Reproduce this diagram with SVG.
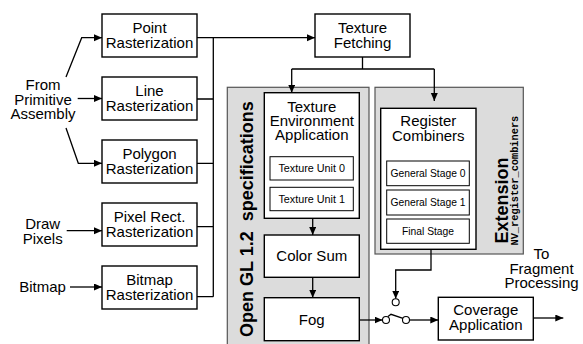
<svg xmlns="http://www.w3.org/2000/svg" width="583" height="344" viewBox="0 0 583 344">
<defs>
<marker id="ah" markerUnits="userSpaceOnUse" markerWidth="9" markerHeight="8" refX="8" refY="3.5" orient="auto">
<path d="M0,0 L8,3.5 L0,7 z" fill="#000"/>
</marker>
<style>
.box{fill:#fff;stroke:#000;stroke-width:1.4}
.sub{fill:#fff;stroke:#000;stroke-width:1}
.gray{fill:#dcdcdc;stroke:#555;stroke-width:1.2}
.t{font-family:"Liberation Sans",Arial,sans-serif;font-size:15px;text-anchor:middle;fill:#000}
.s{font-family:"Liberation Sans",Arial,sans-serif;font-size:10.8px;text-anchor:middle;fill:#000}
.g{font-family:"Liberation Sans",Arial,sans-serif;font-size:10.3px;text-anchor:middle;fill:#000}
.b{font-family:"Liberation Sans",Arial,sans-serif;font-weight:bold;fill:#000}
.m{font-family:"Liberation Mono","Courier New",monospace;font-weight:bold;font-size:10.3px;fill:#000}
.c{fill:none;stroke:#000;stroke-width:1.3}
.a{marker-end:url(#ah)}
.sw{fill:#fff;stroke:#000;stroke-width:1.1}
</style>
</defs>

<g id="opengl-region">
<rect class="gray" x="227.3" y="87.3" width="141.7" height="262"/>
<text class="b" font-size="18" transform="translate(253,337) rotate(-90)" xml:space="preserve">Open GL 1.2  specifications</text>
</g>
<g id="extension-region">
<rect class="gray" x="375" y="87.3" width="148.3" height="166.7"/>
<text class="b" font-size="18" transform="translate(508,243.5) rotate(-90)">Extension</text>
<text class="m" transform="translate(518,245.5) rotate(-90)">NV_register_combiners</text>
</g>

<g id="labels">
<text class="t"><tspan x="43" y="90">From</tspan><tspan x="43" y="104.5">Primitive</tspan><tspan x="43" y="119">Assembly</tspan></text>
<text class="t"><tspan x="42.7" y="229">Draw</tspan><tspan x="42.7" y="244">Pixels</tspan></text>
<text class="t" x="42.5" y="292">Bitmap</text>
<text class="t"><tspan x="541.5" y="259">To</tspan><tspan x="541.5" y="273.5">Fragment</tspan><tspan x="541.5" y="287.5">Processing</tspan></text>
</g>

<g id="point-rasterization">
<rect class="box" x="102" y="14" width="95" height="43"/>
<text class="t"><tspan x="149.5" y="33.3">Point</tspan><tspan x="149.5" y="48.3">Rasterization</tspan></text>
</g>
<g id="line-rasterization">
<rect class="box" x="102" y="77" width="95" height="43"/>
<text class="t"><tspan x="149.5" y="96.3">Line</tspan><tspan x="149.5" y="111.3">Rasterization</tspan></text>
</g>
<g id="polygon-rasterization">
<rect class="box" x="102" y="140" width="95" height="43"/>
<text class="t"><tspan x="149.5" y="159.3">Polygon</tspan><tspan x="149.5" y="174.3">Rasterization</tspan></text>
</g>
<g id="pixelrect-rasterization">
<rect class="box" x="102" y="203" width="95" height="43"/>
<text class="t"><tspan x="149.5" y="222.3">Pixel Rect.</tspan><tspan x="149.5" y="237.3">Rasterization</tspan></text>
</g>
<g id="bitmap-rasterization">
<rect class="box" x="102" y="266" width="95" height="43"/>
<text class="t"><tspan x="149.5" y="285.3">Bitmap</tspan><tspan x="149.5" y="300.3">Rasterization</tspan></text>
</g>

<g id="texture-fetching">
<rect class="box" x="315" y="14" width="95" height="43"/>
<text class="t"><tspan x="362.5" y="33.3">Texture</tspan><tspan x="362.5" y="48.3">Fetching</tspan></text>
</g>

<g id="texture-environment">
<rect class="box" x="264.3" y="92.7" width="95" height="125.6" stroke-width="1.8"/>
<text class="t"><tspan x="311.8" y="111.5">Texture</tspan><tspan x="311.8" y="125.5">Environment</tspan><tspan x="311.8" y="139.5">Application</tspan></text>
<rect class="sub" x="270" y="156.7" width="83.3" height="23.3"/>
<text class="s" x="311.7" y="172.2">Texture Unit 0</text>
<rect class="sub" x="270" y="187.3" width="83.3" height="23.4"/>
<text class="s" x="311.7" y="202.8">Texture Unit 1</text>
</g>

<g id="color-sum">
<rect class="box" x="264.3" y="235" width="95" height="42.3"/>
<text class="t" x="311.8" y="261">Color Sum</text>
</g>

<g id="fog">
<rect class="box" x="264.3" y="297.7" width="95" height="43"/>
<text class="t" x="311.8" y="324.5">Fog</text>
</g>

<g id="register-combiners">
<rect class="box" x="380.7" y="108.3" width="95.3" height="141"/>
<text class="t"><tspan x="428.3" y="126">Register</tspan><tspan x="428.3" y="141">Combiners</tspan></text>
<rect class="sub" x="386.7" y="161" width="82.6" height="24.7"/>
<text class="g" x="428" y="177">General Stage 0</text>
<rect class="sub" x="386.7" y="190" width="82.6" height="25"/>
<text class="g" x="428" y="206.2">General Stage 1</text>
<rect class="sub" x="386.7" y="219" width="82.6" height="24.3"/>
<text class="g" x="428" y="235">Final Stage</text>
</g>

<g id="coverage-application">
<rect class="box" x="438.3" y="297.3" width="95" height="42.7"/>
<text class="t"><tspan x="485.8" y="315">Coverage</tspan><tspan x="485.8" y="329.5">Application</tspan></text>
</g>

<g id="connectors">
<path class="c a" d="M66,77 L81.7,37.7 L102,37.7"/>
<path class="c a" d="M77.7,98.5 L102,98.5"/>
<path class="c a" d="M66,128 L78.3,163.3 L102,163.3"/>
<path class="c a" d="M66.7,230.7 L102,230.7"/>
<path class="c a" d="M70,287 L102,287"/>
<path class="c a" d="M197,37.7 H315"/>
<path class="c" d="M197,99 H213.3 M197,163.3 H213.3 M197,226.7 H213.3 M197,296.7 H213.3 M213.3,37.7 V296.7"/>
<path class="c" d="M362.5,57 V69 M291.7,69 H434.3"/>
<path class="c a" d="M291.7,69 V92.7"/>
<path class="c a" d="M434.3,69 V101"/>
<path class="c a" d="M312.7,218.3 V235"/>
<path class="c a" d="M312.7,277.3 V297.7"/>
<path class="c a" d="M359.3,320 H382.5"/>
<path class="c a" d="M431,249.3 V270 H395.7 V298.8"/>
<path class="c a" d="M409.5,320 H438.3"/>
<path class="c a" d="M533.3,318 H563.3"/>
<path class="c" d="M388,316.5 L391,314.3 L403,318.3"/>
<circle class="sw" cx="386" cy="320" r="3.5"/>
<circle class="sw" cx="406" cy="320" r="3.5"/>
<circle class="sw" cx="395.7" cy="302.3" r="3.5"/>
</g>
</svg>
